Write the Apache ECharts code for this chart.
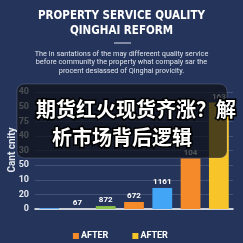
<!DOCTYPE html>
<html><head><meta charset="utf-8">
<script src="https://cdn.jsdelivr.net/npm/echarts@6/dist/echarts.min.js"></script>
<style>html,body{margin:0;padding:0;background:#24345a;}#c{width:243px;height:243px;}</style>
</head><body><div id="c"></div>
<script>
var categories = ['A','B','C','D','E','F','G'];
var barHeights = [0.07, 0, 0.2, 0.48, 1.44, 3.45, 7.28];
var barLabels = ['', '67', '872', '672', '1161', '104', '163'];
var barColors = ['#5aa9f0', '#5aa9f0', '#8bc34a', '#f58a2a', '#42a5f5', '#f58a2a', '#f7c52a'];
var yTickLabels = ['0', '20', '10', '50', '30', '40', '75', '50', '40'];
var yAxisName = 'Cant cnity';
var legendNames = ['AFTER', 'AFTER '];
var legendColors = ['#f58a2a', '#f7c52a'];

var chart = echarts.init(document.getElementById('c'), null, {renderer: 'canvas'});
var font = 'Roboto, "Noto Sans", sans-serif';
chart.setOption({
  backgroundColor: '#24345a',
  animation: false,
  textStyle: {fontFamily: font},
  grid: {left: 35, right: 10, top: 92, bottom: 34},
  legend: {
    left: 'center', top: 226.5, itemWidth: 6, itemHeight: 6, itemGap: 24,
    icon: 'rect',
    textStyle: {color: '#ffffff', fontSize: 9, fontWeight: 'bold', fontFamily: font, padding: [0,0,0,-3]},
    data: legendNames
  },
  xAxis: {
    type: 'category', data: categories,
    axisLine: {lineStyle: {color: '#ffffff', width: 1.5}},
    axisTick: {show: false}, axisLabel: {show: false}
  },
  yAxis: {
    type: 'value', min: 0, max: 8, interval: 1,
    axisLine: {show: false}, axisTick: {show: false},
    axisLabel: {show: true, color: '#e3e6ee', fontSize: 9, fontWeight: 'bold', margin: 6,
      formatter: function (v) { return yTickLabels[Math.round(v)]; }},
    splitLine: {lineStyle: {color: 'rgba(255,255,255,0.14)', width: 1}}
  },
  series: [
    {
      type: 'bar', name: 'main', barCategoryGap: '30%',
      data: barHeights.map(function (h, i) { return {value: h, itemStyle: {color: barColors[i]}}; }),
      label: {show: true, position: 'top', distance: 2, color: '#ffffff', fontSize: 8, fontWeight: 'bold',
        formatter: function (p) { return barLabels[p.dataIndex]; }}
    },
    {type: 'line', name: legendNames[0], data: [], itemStyle: {color: legendColors[0]}},
    {type: 'line', name: legendNames[1], data: [], itemStyle: {color: legendColors[1]}}
  ],
  graphic: [
    {type: 'text', x: 121.5, y: 9, style: {text: 'PROPERTY SERVICE QUALITY\nQINGHAI REFORM', fill: '#ffffff',
      font: 'bold 11.5px "Liberation Sans Narrow", "DejaVu Sans Condensed", sans-serif', align: 'center', lineHeight: 15}},
    {type: 'rect', shape: {x: 114, y: 42.5, width: 17, height: 1}, style: {fill: '#dfe3ec'}},
    {type: 'text', x: 121.5, y: 49.5, style: {text: 'The in santations of the may differeent quality service\nbefore community the property what compaly sar the\nprocent desiassed of Qinghai provicity.',
      fill: '#dfe3ec', font: '7.3px Roboto, sans-serif', align: 'center', lineHeight: 8.7}},
    {type: 'text', x: 12.5, y: 150, rotation: Math.PI / 2, style: {text: yAxisName, fill: '#e6e9f0',
      font: 'bold 10px Roboto, sans-serif', align: 'center', verticalAlign: 'middle'}},
    {type: 'rect', z: 100, shape: {x: 17, y: 84, width: 210, height: 74, r: 7},
      style: {fill: 'rgba(14,16,22,0.72)', stroke: 'rgba(255,255,255,0.16)', lineWidth: 1}},
    {type: 'text', z: 101, x: 36, y: 109, style: {text: '期货红火现货齐涨？解', fill: '#ffffff', stroke: '#000000', lineWidth: 3,
      font: 'bold 20px "Noto Sans CJK SC", sans-serif', align: 'left', verticalAlign: 'middle'}},
    {type: 'text', z: 101, x: 52, y: 137, style: {text: '析市场背后逻辑', fill: '#ffffff', stroke: '#000000', lineWidth: 3,
      font: 'bold 20px "Noto Sans CJK SC", sans-serif', align: 'left', verticalAlign: 'middle'}}
  ]
});
</script></body></html>
